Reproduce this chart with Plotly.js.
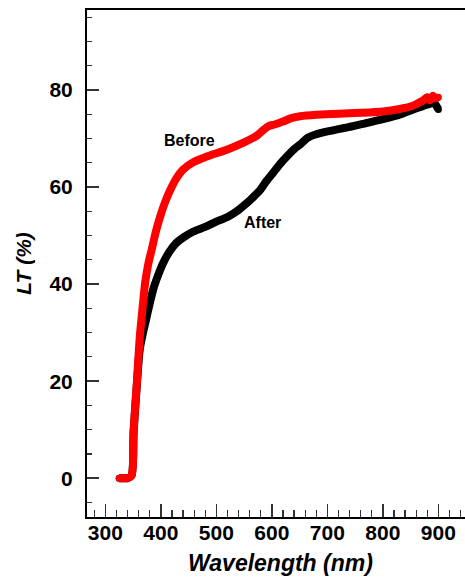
<!DOCTYPE html>
<html>
<head>
<meta charset="utf-8">
<script src="https://cdn.plot.ly/plotly-3.0.1.min.js"></script>
<style>html,body{margin:0;padding:0;background:#fff;}#chart{width:465px;height:581px;}</style>
</head>
<body>
<div id="chart"></div>
<script>
// Wavelength (nm) and luminous transmittance LT (%)
var beforeWl = [325,330,340,347,351,357,362,367,372,378,384,391,399,408,417,428,440,460,483,519,550,573,585,595,605,620,635,651,680,720,760,800,830,850,862,872,880,885,890,895,900];
var beforeLT = [0,0,0,0.5,10,20,29,35,40.5,44.5,47.3,50.8,54,57,59.4,61.8,63.6,65.2,66.3,67.7,69.2,70.6,71.8,72.6,72.9,73.5,74.2,74.6,74.9,75.1,75.3,75.6,76.1,76.6,77.2,77.8,78.5,77.9,78.8,78.3,78.5];
var afterWl = [325,330,340,347,351,357,362,367,373,380,387,395,404,415,428,443,458,480,500,521,540,555,567,579,590,602,615,627,640,651,665,680,710,740,770,800,830,850,862,875,885,890,895,900];
var afterLT = [0,0,0,0.5,9.5,19.5,26.5,29.5,32.5,36,39.2,41.8,44.3,46.6,48.5,49.8,50.8,51.8,52.9,53.9,55.3,56.7,58,59.4,61.2,62.9,64.8,66.3,67.8,68.8,70.2,70.9,71.7,72.4,73.2,74,74.9,75.8,76.3,76.8,77.2,77.6,77,76];
var xTickVals = [300,400,500,600,700,800,900];
var yTickVals = [0,20,40,60,80];
var seriesNames = ['After','Before'];

var fontFam = '"Liberation Sans", Arial, sans-serif';
var traces = [
  {x: afterWl, y: afterLT, name: seriesNames[0], mode: 'lines+markers', type: 'scatter',
   line: {color: '#000000', width: 8, shape: 'spline', smoothing: 0.8}, marker: {color: '#000000', size: 7}},
  {x: beforeWl, y: beforeLT, name: seriesNames[1], mode: 'lines+markers', type: 'scatter',
   line: {color: '#ff0000', width: 8, shape: 'spline', smoothing: 0.8}, marker: {color: '#ff0000', size: 7}}
];
var layout = {
  width: 465, height: 581,
  margin: {l: 87, r: 0, t: 10, b: 64},
  paper_bgcolor: '#ffffff', plot_bgcolor: '#ffffff',
  showlegend: false,
  font: {family: fontFam, color: '#000'},
  xaxis: {
    range: [267, 948], tickvals: xTickVals, ticktext: xTickVals.map(String),
    ticks: 'inside', ticklen: 13, tickwidth: 1.5, tickcolor: '#333',
    minor: {dtick: 20, tick0: 300, ticks: 'inside', ticklen: 7, tickwidth: 1.2, tickcolor: '#333'},
    showline: true, linecolor: '#000', linewidth: 2, mirror: true,
    showgrid: false, zeroline: false,
    tickfont: {family: fontFam, size: 21, weight: 'bold', color: '#000'},
    ticklabelstandoff: -4
  },
  yaxis: {
    range: [-8, 96.5], tickvals: yTickVals, ticktext: yTickVals.map(String),
    ticks: 'inside', ticklen: 12, tickwidth: 1.5, tickcolor: '#333',
    minor: {dtick: 5, tick0: 0, ticks: 'inside', ticklen: 5, tickwidth: 1.2, tickcolor: '#333'},
    showline: true, linecolor: '#000', linewidth: 2,
    showgrid: false, zeroline: false,
    tickfont: {family: fontFam, size: 21, weight: 'bold', color: '#000'},
    ticklabelstandoff: 8,
    title: {text: 'LT (%)', font: {family: fontFam, size: 21, weight: 'bold', style: 'italic', color: '#000'}, standoff: 12}
  },
  annotations: [
    {x: 280, y: 568, xref: 'paper', yref: 'paper', text: 'Wavelength (nm)', showarrow: false,
     font: {family: fontFam, size: 23, weight: 'bold', style: 'italic', color: '#000'}},
    {x: 452, y: 69.7, xref: 'x', yref: 'y', text: 'Before', showarrow: false,
     font: {family: fontFam, size: 16, weight: 'bold', color: '#000'}},
    {x: 583.6, y: 52.6, xref: 'x', yref: 'y', text: 'After', showarrow: false,
     font: {family: fontFam, size: 16, weight: 'bold', color: '#000'}}
  ]
};
// x-axis title placed as a pixel-positioned annotation (convert pixels to paper coords)
var plotW = 465 - 87, plotH = 581 - 10 - 64;
layout.annotations[0].x = (280 - 87) / plotW;
layout.annotations[0].y = (581 - 64 - 563) / plotH;
layout.annotations[0].yanchor = 'middle';
Plotly.newPlot('chart', traces, layout, {displayModeBar: false, staticPlot: true});
</script>
</body>
</html>
